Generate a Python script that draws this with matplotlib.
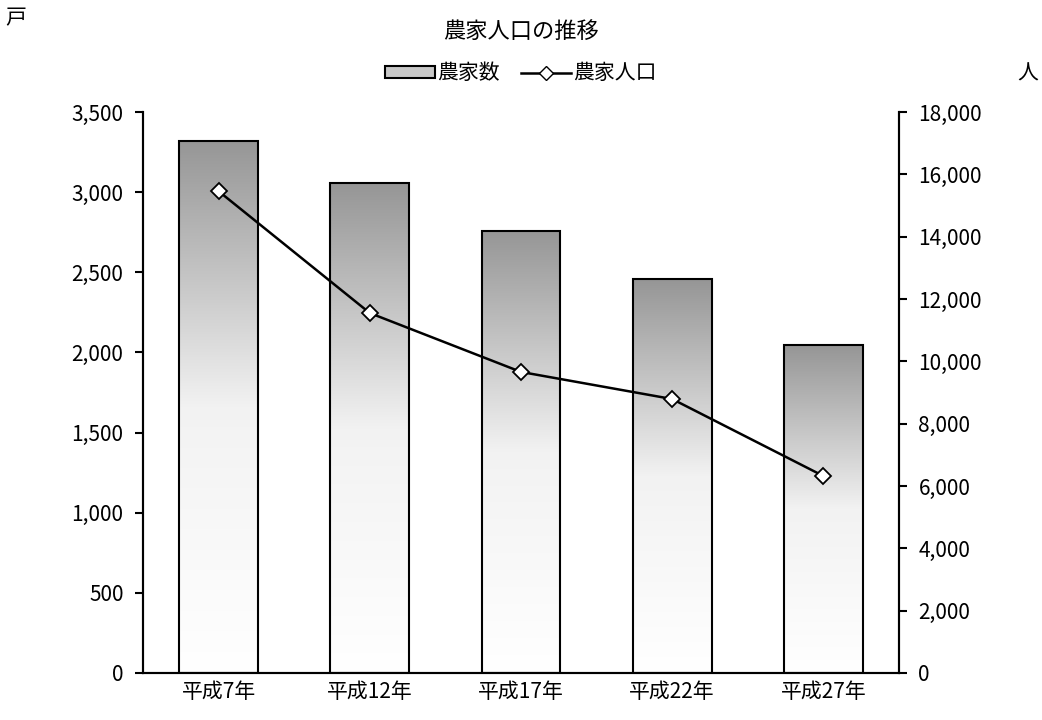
import numpy as np
import matplotlib.pyplot as plt
from matplotlib.colors import LinearSegmentedColormap
from matplotlib.lines import Line2D
from matplotlib.patches import Patch
from matplotlib.ticker import FuncFormatter

plt.rcParams['font.family'] = ['Noto Sans CJK JP', 'DejaVu Sans']

# data
years = ['平成7年', '平成12年', '平成17年', '平成22年', '平成27年']
households = [3320, 3057, 2758, 2458, 2046]     # 農家数 (戸)
population = [15460, 11550, 9660, 8790, 6320]   # 農家人口 (人)

fig = plt.figure(figsize=(10.42, 7.2), dpi=100)
ax = fig.add_axes([0.1372, 0.0653, 0.7256, 0.7791])
ax2 = ax.twinx()

x = np.arange(len(years))
bw = 0.52
grad = LinearSegmentedColormap.from_list('g', ['#ffffff', '#f2f2f2', '#969696'])
img = np.linspace(0, 1, 256).reshape(-1, 1)

bars = ax.bar(x, households, width=bw, facecolor='none', edgecolor='black',
              linewidth=1.5, zorder=3)
for b in bars:
    x0, y0 = b.get_x(), b.get_y()
    ax.imshow(img, cmap=grad, origin='lower', aspect='auto',
              extent=[x0, x0 + b.get_width(), y0, y0 + b.get_height()], zorder=2)

ax2.plot(x, population, color='black', lw=1.8, marker='D', markersize=8,
         markerfacecolor='white', markeredgecolor='black', markeredgewidth=1.3, zorder=5)

ax.set_xlim(-0.5, len(years) - 0.5)
ax.set_ylim(0, 3500)
ax2.set_ylim(0, 18000)
ax.set_yticks(np.arange(0, 3501, 500))
ax2.set_yticks(np.arange(0, 18001, 2000))
fmt = FuncFormatter(lambda v, p: f'{int(v):,}')
ax.yaxis.set_major_formatter(fmt)
ax2.yaxis.set_major_formatter(fmt)
ax.set_xticks(x)
ax.set_xticklabels(years)

for a in (ax, ax2):
    a.spines['top'].set_visible(False)
    for s in ('left', 'right', 'bottom'):
        a.spines[s].set_linewidth(1.5)
    a.tick_params(axis='y', direction='out', length=6, width=1.5, labelsize=15, pad=8)
ax.tick_params(axis='x', length=0, labelsize=15, pad=6)

fig.text(0.5, 0.956, '農家人口の推移', ha='center', va='center', fontsize=16)
fig.text(0.015, 0.975, '戸', ha='center', va='center', fontsize=15)
fig.text(0.986, 0.898, '人', ha='center', va='center', fontsize=15)

handles = [Patch(facecolor='#c8c8c8', edgecolor='black', linewidth=1.5),
           Line2D([], [], color='black', lw=1.8, marker='D', markersize=7,
                  markerfacecolor='white', markeredgecolor='black')]
fig.legend(handles, ['農家数', '農家人口'], loc='center', bbox_to_anchor=(0.5, 0.898),
           ncol=2, frameon=False, fontsize=15, handlelength=2.4, handleheight=0.5,
           handletextpad=0.1, columnspacing=1.0)

fig.savefig('out.png', dpi=100)
